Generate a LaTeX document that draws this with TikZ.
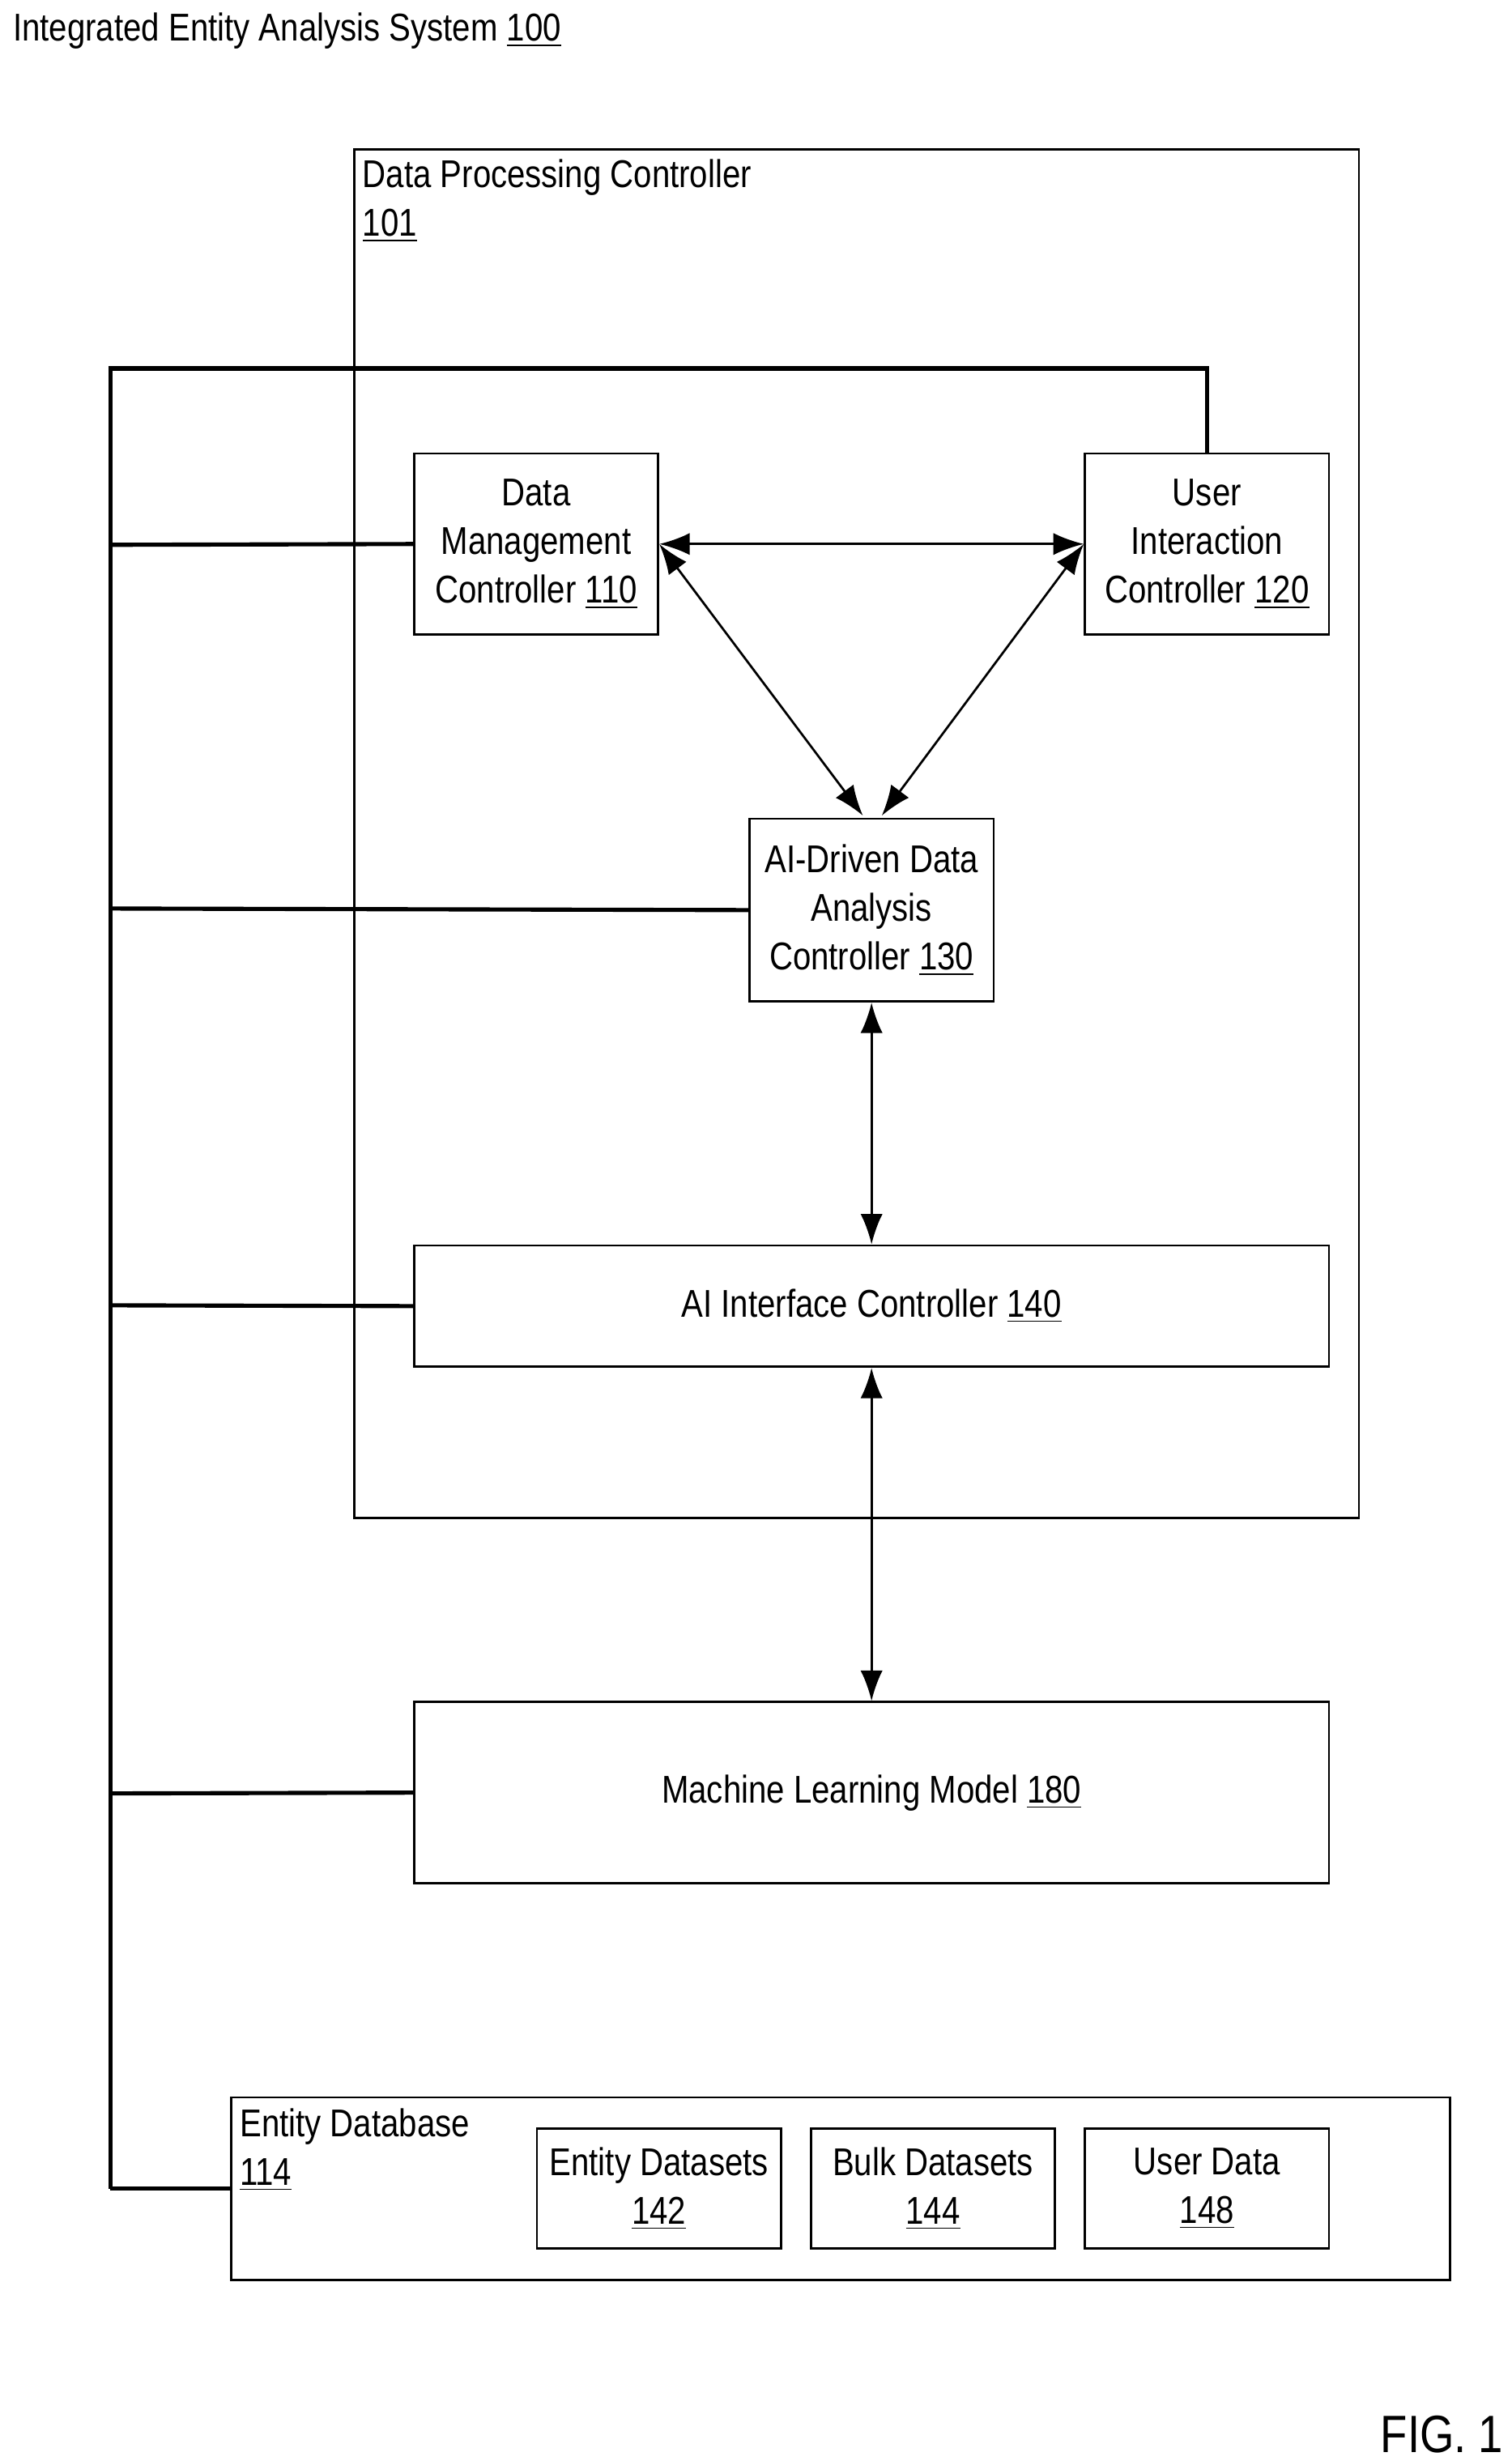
\documentclass[tikz,border=0pt]{standalone}
\usepackage{fontspec}
\setmainfont[FakeStretch=0.84]{Liberation Sans}
\usetikzlibrary{arrows.meta}

\begin{document}
\begin{tikzpicture}[x=0.02cm,y=-0.02cm,font=\fontsize{14}{17.6}\selectfont,
    box/.style={draw,thick,align=center,inner sep=0pt},
    bus/.style={line width=1.5pt},
    link/.style={thick,{Latex[length=11pt,width=8pt]}-{Latex[length=11pt,width=8pt]}}]
    \useasboundingbox (0,0) rectangle (960,1563);

    \node[anchor=north west,inner sep=0pt] (title) at (8,8) {Integrated Entity Analysis System \underline{100}};
    \node[anchor=south east,inner sep=0pt,font=\fontsize{19}{20}\selectfont] (fig) at (955,1558) {FIG. 1};

    % data processing controller
    \draw[thick] (225,95) rectangle (863,964);
    \node[anchor=north west,align=left,inner sep=0pt] (dpc) at (230,101) {Data Processing Controller\\\underline{101}};

    \node[box,minimum width=155*0.02cm,minimum height=115*0.02cm] (dmc) at (340.5,345.5) {Data\\Management\\Controller \underline{110}};
    \node[box,minimum width=155*0.02cm,minimum height=115*0.02cm] (uic) at (766.5,345.5) {User\\Interaction\\Controller \underline{120}};
    \node[box,minimum width=155*0.02cm,minimum height=116*0.02cm] (adc) at (553.5,578) {AI-Driven Data\\Analysis\\Controller \underline{130}};
    \node[box,minimum width=581*0.02cm,minimum height=77*0.02cm] (aic) at (553.5,829.5) {AI Interface Controller \underline{140}};
    \node[box,minimum width=581*0.02cm,minimum height=115*0.02cm] (mlm) at (553.5,1138.5) {Machine Learning Model \underline{180}};

    % entity database
    \node[box,minimum width=774*0.02cm,minimum height=116*0.02cm] (edb) at (534,1390) {};
    \node[anchor=north west,align=left,inner sep=0pt] (edbl) at (152,1339) {Entity Database\\\underline{114}};
    \node[box,minimum width=155*0.02cm,minimum height=76*0.02cm] (eds) at (418.5,1390) {Entity Datasets\\\underline{142}};
    \node[box,minimum width=155*0.02cm,minimum height=76*0.02cm] (bds) at (592.5,1390) {Bulk Datasets\\\underline{144}};
    \node[box,minimum width=155*0.02cm,minimum height=76*0.02cm] (ud) at (766.5,1390) {User Data\\\underline{148}};

    \draw[link] (dmc.east) -- (uic.west);
    \draw[link] (dmc.east) -- (548,518);
    \draw[link] (uic.west) -- (560,518);
    \draw[link] (adc.south) -- (aic.north);
    \draw[link] (aic.south) -- (mlm.north);

    % bus
    \coordinate (top) at (70,234);
    \coordinate (bot) at (70,1390);
    \draw[bus] (bot) -- (top) -| (uic.north);
    \draw[bus] (70,346) -- (dmc.west);
    \draw[bus] (70,577) -- (adc.west);
    \draw[bus] (70,829) -- (aic.west);
    \draw[bus] (70,1139) -- (mlm.west);
    \draw[bus] (bot) -- (edb.west);
\end{tikzpicture}
\end{document}
